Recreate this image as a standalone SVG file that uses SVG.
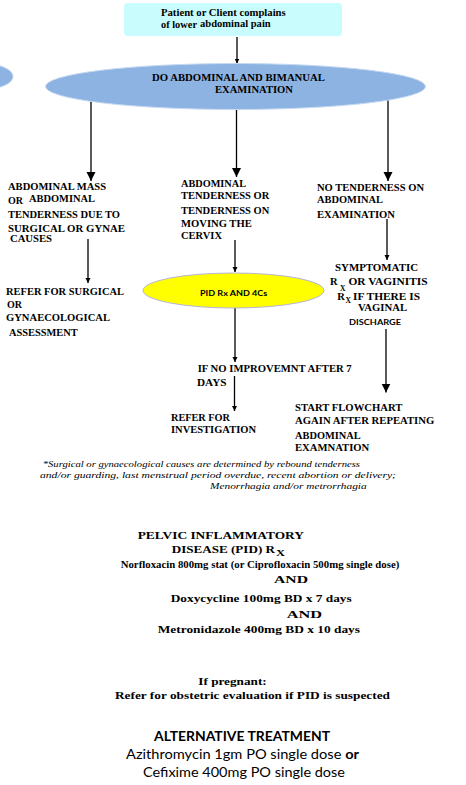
<svg xmlns="http://www.w3.org/2000/svg" width="466" height="785" viewBox="0 0 466 785">
<style>
text { fill: #000; }
.b { font-family: "Liberation Serif", "Times New Roman", serif; font-weight: bold; font-size: 10.5px; }
.bb { font-family: "Liberation Serif", "Times New Roman", serif; font-weight: bold; font-size: 11px; }
.sub { font-family: "Liberation Serif", "Times New Roman", serif; font-weight: bold; font-size: 7.5px; }
.it { font-family: "Liberation Serif", "Times New Roman", serif; font-style: italic; font-size: 7.8px; }
.s { font-family: Lato, "Liberation Sans", sans-serif; font-weight: bold; font-size: 8px; }
.l { font-family: Lato, "Liberation Sans", sans-serif; font-size: 14px; }
.conn { stroke: #000; stroke-width: 1.3; fill: none; }
.blue { fill: #8db3e2; stroke: #c6d9f1; stroke-width: 1; }
</style>
<defs>
<marker id="big" markerUnits="userSpaceOnUse" viewBox="0 0 10 10" refX="10" refY="5" markerWidth="9" markerHeight="11" orient="auto"><path d="M0,0 L10,5 L0,10 z" fill="#000"/></marker>
<marker id="small" markerUnits="userSpaceOnUse" viewBox="0 0 10 10" refX="10" refY="5" markerWidth="5" markerHeight="6" orient="auto"><path d="M0,0 L10,5 L0,10 z" fill="#000"/></marker>
<marker id="flat" markerUnits="userSpaceOnUse" viewBox="0 0 10 10" refX="10" refY="5" markerWidth="4.5" markerHeight="9" orient="auto"><path d="M0,0 L10,5 L0,10 z" fill="#000"/></marker>
</defs>
<rect width="466" height="785" fill="#fff"/>

<g id="connectors">
<line class="conn" x1="237" y1="37" x2="237" y2="63.5" stroke="#333" marker-end="url(#flat)"/>
<line class="conn" x1="91" y1="100" x2="91" y2="181" marker-end="url(#big)"/>
<line class="conn" x1="236.5" y1="109" x2="236.5" y2="177" marker-end="url(#big)"/>
<line class="conn" x1="388" y1="100" x2="388" y2="181" marker-end="url(#big)"/>
<line class="conn" x1="88" y1="239" x2="88" y2="283" marker-end="url(#small)"/>
<line class="conn" x1="235" y1="240" x2="235" y2="272" marker-end="url(#small)"/>
<line class="conn" x1="387" y1="219" x2="387" y2="260" marker-end="url(#small)"/>
<line class="conn" x1="235" y1="308" x2="235" y2="362" marker-end="url(#small)"/>
<line class="conn" x1="234.5" y1="376" x2="234.5" y2="411" marker-end="url(#small)"/>
<line class="conn" x1="386" y1="329" x2="386" y2="392.5" marker-end="url(#big)"/>
</g>

<g id="start">
<rect x="124" y="3" width="218" height="33" rx="4" fill="#c9fdfd"/>
<text class="b" x="161" y="16" textLength="124.7" lengthAdjust="spacingAndGlyphs">Patient or Client complains</text>
<text class="b" x="161" y="28.3" textLength="36" lengthAdjust="spacingAndGlyphs">of lower</text>
<text class="b" x="200" y="26.7" textLength="70.7" lengthAdjust="spacingAndGlyphs">abdominal pain</text>
</g>

<g id="left-ellipse">
<ellipse class="blue" cx="-20" cy="76.5" rx="33" ry="13.5"/>
</g>

<g id="exam">
<ellipse class="blue" cx="235.5" cy="86.5" rx="190" ry="23"/>
<text class="b" x="152" y="81" textLength="173" lengthAdjust="spacingAndGlyphs">DO ABDOMINAL AND BIMANUAL</text>
<text class="b" x="215" y="93.3" textLength="78" lengthAdjust="spacingAndGlyphs">EXAMINATION</text>
</g>

<g id="mass">
<text class="b" x="8" y="190" textLength="98" lengthAdjust="spacingAndGlyphs">ABDOMINAL MASS</text>
<text class="b" x="8" y="204" textLength="15" lengthAdjust="spacingAndGlyphs">OR</text>
<text class="b" x="29" y="201.5" textLength="66" lengthAdjust="spacingAndGlyphs">ABDOMINAL</text>
<text class="b" x="8" y="217.7" textLength="112" lengthAdjust="spacingAndGlyphs">TENDERNESS DUE TO</text>
<text class="b" x="8" y="232.3" textLength="117" lengthAdjust="spacingAndGlyphs">SURGICAL OR  GYNAE</text>
<text class="b" x="10" y="242" textLength="42" lengthAdjust="spacingAndGlyphs">CAUSES</text>
</g>

<g id="refer-surgical">
<text class="b" x="6" y="295.3" textLength="118" lengthAdjust="spacingAndGlyphs">REFER FOR SURGICAL</text>
<text class="b" x="7" y="307.7" textLength="15" lengthAdjust="spacingAndGlyphs">OR</text>
<text class="b" x="6" y="321" textLength="104" lengthAdjust="spacingAndGlyphs">GYNAECOLOGICAL</text>
<text class="b" x="9" y="335.7" textLength="68.7" lengthAdjust="spacingAndGlyphs">ASSESSMENT</text>
</g>

<g id="tenderness">
<text class="b" x="181" y="186.7" textLength="65" lengthAdjust="spacingAndGlyphs">ABDOMINAL</text>
<text class="b" x="181" y="199.3" textLength="88.3" lengthAdjust="spacingAndGlyphs">TENDERNESS OR</text>
<text class="b" x="181" y="214" textLength="88.3" lengthAdjust="spacingAndGlyphs">TENDERNESS ON</text>
<text class="b" x="181" y="226.7" textLength="70.7" lengthAdjust="spacingAndGlyphs">MOVING THE</text>
<text class="b" x="181" y="239.3" textLength="41" lengthAdjust="spacingAndGlyphs">CERVIX</text>
</g>

<g id="pid">
<ellipse cx="233.5" cy="290.5" rx="90.5" ry="17.5" fill="#ffff00" stroke="#b4b4dc" stroke-width="1"/>
<text class="s" x="200" y="295.5" textLength="67.3" lengthAdjust="spacingAndGlyphs">PID Rx AND 4Cs</text>
</g>

<g id="no-tenderness">
<text class="b" x="317" y="190.7" textLength="107" lengthAdjust="spacingAndGlyphs">NO TENDERNESS ON</text>
<text class="b" x="317" y="203.3" textLength="66" lengthAdjust="spacingAndGlyphs">ABDOMINAL</text>
<text class="b" x="317" y="217.7" textLength="78" lengthAdjust="spacingAndGlyphs">EXAMINATION</text>
</g>

<g id="symptomatic">
<text class="b" x="335" y="271.3" textLength="83" lengthAdjust="spacingAndGlyphs">SYMPTOMATIC</text>
<text class="b" x="330" y="285">R</text>
<text class="sub" x="340" y="290.5" font-size="7">X</text>
<text class="b" x="348.5" y="285" textLength="79" lengthAdjust="spacingAndGlyphs">OR VAGINITIS</text>
<text class="b" x="337.3" y="299.5">R</text>
<text class="sub" x="345.5" y="303" font-size="7">X</text>
<text class="b" x="353" y="299.5" textLength="67" lengthAdjust="spacingAndGlyphs">IF THERE IS</text>
<text class="b" x="358" y="311" textLength="49" lengthAdjust="spacingAndGlyphs">VAGINAL</text>
<text class="s" x="349" y="325" textLength="52" lengthAdjust="spacingAndGlyphs">DISCHARGE</text>
</g>

<g id="no-improvement">
<text class="b" x="197.7" y="372.3" textLength="154" lengthAdjust="spacingAndGlyphs">IF NO IMPROVEMNT AFTER 7</text>
<text class="b" x="197" y="386" textLength="29.5" lengthAdjust="spacingAndGlyphs">DAYS</text>
</g>

<g id="refer-investigation">
<text class="b" x="171" y="420.7" textLength="59" lengthAdjust="spacingAndGlyphs">REFER FOR</text>
<text class="b" x="171" y="433.3" textLength="85" lengthAdjust="spacingAndGlyphs">INVESTIGATION</text>
</g>

<g id="restart">
<text class="b" x="295" y="411" textLength="107.3" lengthAdjust="spacingAndGlyphs">START FLOWCHART</text>
<text class="b" x="295" y="424.3" textLength="139.3" lengthAdjust="spacingAndGlyphs">AGAIN AFTER REPEATING</text>
<text class="b" x="295" y="439.3" textLength="65.7" lengthAdjust="spacingAndGlyphs">ABDOMINAL</text>
<text class="b" x="295" y="450.7" textLength="74.3" lengthAdjust="spacingAndGlyphs">EXAMNATION</text>
</g>

<g id="footnote">
<text class="it" x="42.7" y="466.5" textLength="317.3" lengthAdjust="spacingAndGlyphs">*Surgical or gynaecological causes are determined by rebound tenderness</text>
<text class="it" x="40" y="477.5" textLength="356" lengthAdjust="spacingAndGlyphs">and/or guarding, last menstrual period overdue, recent abortion or delivery;</text>
<text class="it" x="210" y="488.5" textLength="156.7" lengthAdjust="spacingAndGlyphs">Menorrhagia and/or metrorrhagia</text>
</g>

<g id="treatment">
<text class="bb" x="137.7" y="538.5" textLength="166.3" lengthAdjust="spacingAndGlyphs">PELVIC INFLAMMATORY</text>
<text class="bb" x="171.7" y="553.3" textLength="103.3" lengthAdjust="spacingAndGlyphs">DISEASE (PID) R</text>
<text class="sub" x="276" y="556" font-size="8.5" textLength="9" lengthAdjust="spacingAndGlyphs">X</text>
<text class="bb" x="120.7" y="567.5" textLength="278.6" lengthAdjust="spacingAndGlyphs">Norfloxacin 800mg stat (or Ciprofloxacin 500mg single dose)</text>
<text class="bb" x="274" y="583" textLength="34" lengthAdjust="spacingAndGlyphs">AND</text>
<text class="bb" x="170.7" y="601.7" textLength="181" lengthAdjust="spacingAndGlyphs">Doxycycline 100mg BD x 7 days</text>
<text class="bb" x="286.7" y="618" textLength="35.3" lengthAdjust="spacingAndGlyphs">AND</text>
<text class="bb" x="157.7" y="632.7" textLength="202.3" lengthAdjust="spacingAndGlyphs">Metronidazole 400mg BD x 10 days</text>
</g>

<g id="pregnant">
<text class="bb" x="198.3" y="685" textLength="68.4" lengthAdjust="spacingAndGlyphs">If pregnant:</text>
<text class="bb" x="115" y="699.3" textLength="275" lengthAdjust="spacingAndGlyphs">Refer for obstetric evaluation if PID is suspected</text>
</g>

<g id="alternative">
<text class="l" x="154" y="740.7" font-weight="bold" textLength="176" lengthAdjust="spacingAndGlyphs">ALTERNATIVE TREATMENT</text>
<text class="l" x="126" y="759.3" textLength="233" lengthAdjust="spacingAndGlyphs">Azithromycin 1gm PO single dose <tspan font-weight="bold">or</tspan></text>
<text class="l" x="143" y="777" textLength="202" lengthAdjust="spacingAndGlyphs">Cefixime 400mg PO single dose</text>
</g>
</svg>
